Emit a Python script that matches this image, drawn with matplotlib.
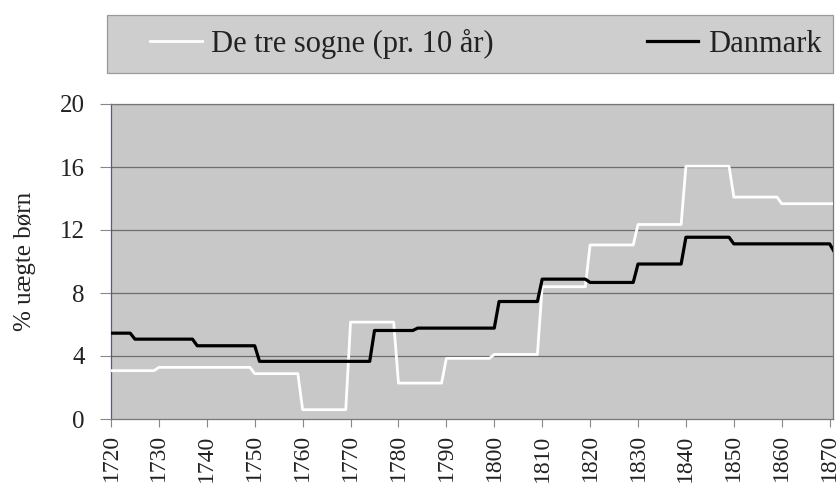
import numpy as np
import matplotlib.pyplot as plt
from matplotlib.patches import Rectangle

# --- data ---
# De tre sogne: one value per decade
sogne_start = [1720, 1730, 1740, 1750, 1760, 1770, 1780, 1790, 1800, 1810, 1820, 1830, 1840, 1850, 1860]
sogne_val = [3.07, 3.28, 3.28, 2.88, 0.59, 6.15, 2.28, 3.85, 4.10, 8.40, 11.05, 12.35, 16.05, 14.09, 13.67]

# Danmark: value changes at these years
dk_start = [1720, 1725, 1738, 1751, 1775, 1784, 1801, 1810, 1820, 1830, 1840, 1850, 1871]
dk_val = [5.45, 5.07, 4.65, 3.66, 5.62, 5.77, 7.46, 8.88, 8.67, 9.84, 11.54, 11.12, 10.6]

last_year = 1871

def yearly(starts, vals, end):
    # expand period values to one value per year
    edges = list(starts) + [end + 1]
    n = np.diff(edges)
    years = np.arange(starts[0], end + 1)
    return years, np.repeat(vals, n)

yrs_s, val_s = yearly(sogne_start, sogne_val, last_year)
yrs_d, val_d = yearly(dk_start, dk_val, last_year)

plt.rcParams['font.family'] = ['Liberation Serif', 'DejaVu Serif']

W, H = 839, 493
fig = plt.figure(figsize=(W / 100, H / 100), dpi=100)
ax = fig.add_axes([111 / W, 1 - 419 / H, 722 / W, 315 / H])
ax.set_facecolor("#c8c8c8")

for y in [4, 8, 12, 16, 20]:
    ax.axhline(y, color="#6e6e6e", lw=0.9, zorder=1)

ax.plot(yrs_s, val_s, color="white", lw=2.0, label="De tre sogne (pr. 10 år)", zorder=3)
ax.plot(yrs_d, val_d, color="black", lw=2.3, label="Danmark", zorder=4)

ax.set_xlim(1720, 1870.7)
ax.set_ylim(0, 20)
ax.set_xticks(np.arange(1720, 1871, 10))
ax.set_yticks(np.arange(0, 21, 4))
ax.tick_params(axis="x", labelrotation=90, labelsize=17, length=6, color="#888888", pad=5, labelcolor="#222222")
ax.tick_params(axis="y", labelsize=18, length=8, color="#888888", pad=11, labelcolor="#222222")
for s in ax.spines.values():
    s.set_color("#777777")
    s.set_linewidth(0.9)
ax.spines["left"].set_color("#5a5a78")

ax.set_ylabel("% uægte børn", fontsize=18, labelpad=17, color="#222222")

# legend box (drawn separately so it can span the plot width)
fig.patches.append(Rectangle((107 / W, 1 - 73 / H), 726 / W, 58 / H, transform=fig.transFigure,
                             facecolor="#cecece", edgecolor="#9a9a9a", lw=0.9, zorder=0))
leg = fig.legend(loc="center left", bbox_to_anchor=(150 / W, 1 - 44 / H), ncol=2,
                 fontsize=22, frameon=False, handlelength=1.7, handletextpad=0.3,
                 columnspacing=5.0, borderpad=0, borderaxespad=0)
for t in leg.get_texts():
    t.set_color("#222222")

plt.savefig("out.png", dpi=100)
